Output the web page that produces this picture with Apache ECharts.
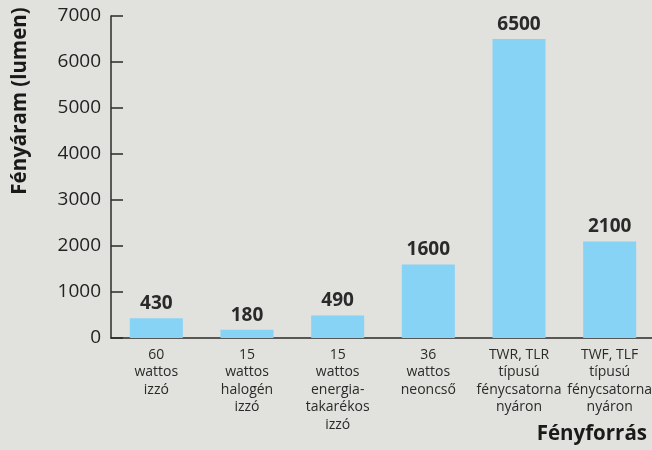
<!DOCTYPE html>
<html>
<head>
<meta charset="utf-8">
<script src="https://cdn.jsdelivr.net/npm/echarts@6/dist/echarts.min.js"></script>
<style>
html, body { margin: 0; padding: 0; background: #e1e1dd; }
#main { width: 652px; height: 450px; }
</style>
</head>
<body>
<div id="main"></div>
<script>
// kategóriák (fényforrások)
var categories = [
	'60\nwattos\nizzó',
	'15\nwattos\nhalogén\nizzó',
	'15\nwattos\nenergia-\ntakarékos\nizzó',
	'36\nwattos\nneoncső',
	'TWR, TLR\ntípusú\nfénycsatorna\nnyáron',
	'TWF, TLF\ntípusú\nfénycsatorna\nnyáron'
];
var lumenValues = [430, 180, 490, 1600, 6500, 2100];
var yTicks = [0, 1000, 2000, 3000, 4000, 5000, 6000, 7000];

var font = '"Open Sans", "Noto Sans", sans-serif';

var options = {
	backgroundColor: '#e1e1dd',
	textStyle: { fontFamily: font },
	grid: {
		left: 111,
		right: -3,
		top: 16,
		bottom: 112,
		outerBoundsMode: 'none'
	},
	xAxis: {
		type: 'category',
		data: categories,
		name: 'Fényforrás',
		nameLocation: 'end',
		nameGap: -8,
		nameTextStyle: {
			fontFamily: font,
			fontWeight: 'bold',
			fontSize: 20.5,
			color: '#1a1a1a',
			align: 'right',
			verticalAlign: 'top',
			padding: [86, 0, 0, 0]
		},
		axisLine: { lineStyle: { color: '#2a2a2a', width: 1.5 } },
		axisTick: { show: false },
		axisLabel: {
			color: '#2a2a2a',
			fontSize: 14,
			lineHeight: 17.5,
			margin: 8,
			interval: 0
		}
	},
	yAxis: {
		type: 'value',
		min: yTicks[0],
		max: yTicks[yTicks.length - 1],
		interval: 1000,
		name: 'Fényáram (lumen)',
		nameLocation: 'middle',
		nameGap: 80,
		nameTextStyle: {
			fontFamily: font,
			fontWeight: 'bold',
			fontSize: 20.5,
			color: '#1a1a1a',
			padding: [0, 0, 0, 152]
		},
		splitLine: { show: false },
		axisLine: { show: true, lineStyle: { color: '#2a2a2a', width: 1.5 } },
		axisTick: { show: true, inside: true, length: 12, lineStyle: { color: '#2a2a2a', width: 1.5 } },
		axisLabel: {
			color: '#222',
			fontSize: 19,
			margin: 10,
			formatter: function (v) { return String(v); }
		}
	},
	series: [
		{
			type: 'bar',
			data: lumenValues,
			barWidth: 53,
			itemStyle: { color: '#87d3f5' },
			label: {
				show: true,
				position: 'top',
				distance: 5,
				fontFamily: font,
				fontWeight: 'bold',
				fontSize: 19,
				color: '#2a2a2a'
			}
		}
	]
};

var myChart = echarts.init(document.getElementById('main'));
myChart.setOption(options);
</script>
</body>
</html>
